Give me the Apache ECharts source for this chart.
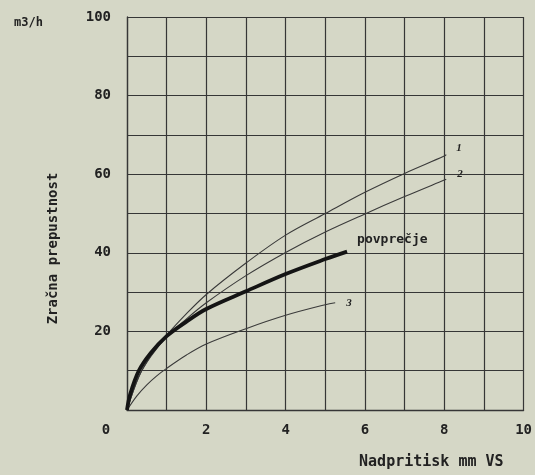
<!DOCTYPE html>
<html>
<head>
<meta charset="utf-8">
<script src="https://cdn.jsdelivr.net/npm/echarts@6/dist/echarts.min.js"></script>
<style>
html,body{margin:0;padding:0;background:#d5d7c6;}
#c{width:535px;height:475px;}
</style>
</head>
<body>
<div id="c"></div>
<script>
// Data (x: Nadpritisk mm VS, y: m3/h)
const xCurve1 = [0, 0.3, 0.6, 1, 1.5, 2, 3, 4, 5, 6, 7, 8, 8.05];
const yCurve1 = [0, 8.5, 13.8, 19, 24.5, 29.4, 37.4, 44.5, 50, 55.4, 60.2, 64.6, 65];
const xCurve2 = [0, 0.3, 0.6, 1, 1.5, 2, 3, 4, 5, 6, 7, 8, 8.05];
const yCurve2 = [0, 8.5, 13.6, 18.6, 23.2, 27.3, 34.2, 40.1, 45.3, 49.9, 54.3, 58.5, 58.7];
const xCurve3 = [0, 0.25, 0.5, 0.75, 1, 1.5, 2, 3, 4, 5, 5.25];
const yCurve3 = [0, 3.6, 6.4, 8.7, 10.6, 14, 16.8, 20.7, 24.1, 26.8, 27.3];
const xAvg = [0, 0.08, 0.3, 0.6, 1, 1.5, 2, 3, 4, 5, 5.55];
const yAvg = [0, 4, 10, 14.5, 18.8, 22.5, 25.7, 30.2, 34.6, 38.4, 40.3];
const curveNames = ['1', '2', '3', 'povprečje'];
const xTickLabels = ['0', '2', '4', '6', '8', '10'];
const yTickLabels = ['20', '40', '60', '80', '100'];
const xTitle = 'Nadpritisk mm VS';
const yTitle = 'Zračna prepustnost';
const unitText = 'm3/h';

function pairs(xs, ys) { return xs.map((x, i) => [x, ys[i]]); }

const FONT = '"DejaVu Sans Mono", "Liberation Mono", monospace';
const INK = '#222222';
const GRIDC = '#363636';

const chart = echarts.init(document.getElementById('c'), null, {renderer: 'canvas'});

function thinSeries(name, data, offset) {
  return {
    type: 'line', name: name, data: data, smooth: 0.35, showSymbol: false,
    lineStyle: {color: '#3a3a3a', width: 1.1},
    endLabel: {show: true, formatter: name, offset: offset, color: INK,
      fontFamily: 'serif', fontStyle: 'italic', fontWeight: 'bold', fontSize: 11},
    silent: true, z: 3
  };
}

chart.setOption({
  backgroundColor: '#d5d7c6',
  animation: false,
  title: {
    text: unitText, left: 9, top: 12,
    textStyle: {fontFamily: FONT, fontWeight: 'bold', fontSize: 12, color: INK}
  },
  grid: {left: 127, top: 17, right: 7, bottom: 55, containLabel: false},
  xAxis: {
    type: 'value', min: 0, max: 10, interval: 1,
    name: xTitle, nameLocation: 'middle', nameGap: 45,
    nameTextStyle: {fontFamily: FONT, fontWeight: 'bold', fontSize: 15, color: INK,
      padding: [0, 0, 0, 212]},
    axisLine: {show: true, lineStyle: {color: GRIDC, width: 1.3}},
    axisTick: {show: false},
    splitLine: {show: true, lineStyle: {color: GRIDC, width: 1.2}},
    axisLabel: {
      margin: 13, color: INK, fontFamily: FONT, fontWeight: 'bold', fontSize: 14,
      formatter: function (v) {
        const s = String(v);
        if (s === xTickLabels[0]) return '{z|' + s + '}';
        return xTickLabels.indexOf(s) >= 0 ? s : '';
      },
      rich: {z: {padding: [0, 42, 0, 0], fontFamily: FONT, fontWeight: 'bold', fontSize: 14, color: INK}}
    }
  },
  yAxis: {
    type: 'value', min: 0, max: 100, interval: 10,
    name: yTitle, nameLocation: 'middle', nameGap: 67, nameRotate: 90,
    nameTextStyle: {fontFamily: FONT, fontWeight: 'bold', fontSize: 14, color: INK,
      padding: [0, 70, 0, 0]},
    axisLine: {show: true, lineStyle: {color: GRIDC, width: 1.3}},
    axisTick: {show: false},
    splitLine: {show: true, lineStyle: {color: GRIDC, width: 1.2}},
    axisLabel: {
      margin: 16, color: INK, fontFamily: FONT, fontWeight: 'bold', fontSize: 14,
      formatter: function (v) {
        const s = String(v);
        return yTickLabels.indexOf(s) >= 0 ? s : '';
      }
    }
  },
  series: [
    thinSeries(curveNames[0], pairs(xCurve1, yCurve1), [2, -6]),
    thinSeries(curveNames[1], pairs(xCurve2, yCurve2), [3, -5]),
    thinSeries(curveNames[2], pairs(xCurve3, yCurve3), [3, 0]),
    {
      type: 'line', name: curveNames[3], data: pairs(xAvg, yAvg), smooth: 0.35, showSymbol: false,
      lineStyle: {color: '#141414', width: 3.8},
      endLabel: {show: true, formatter: curveNames[3], offset: [2, -12], color: INK,
        fontFamily: FONT, fontWeight: 'bold', fontSize: 13},
      silent: true, z: 4
    }
  ]
});
</script>
</body>
</html>
